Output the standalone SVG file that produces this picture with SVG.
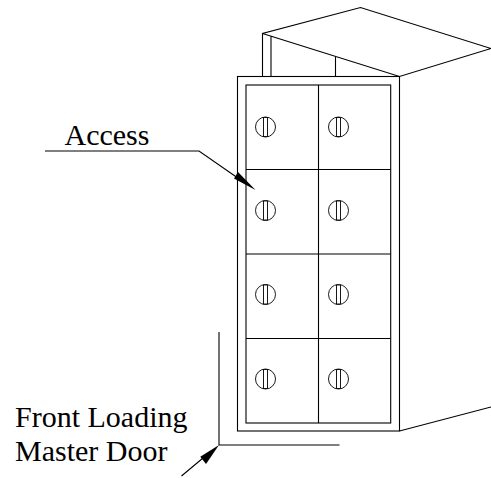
<svg xmlns="http://www.w3.org/2000/svg" width="491" height="478" viewBox="0 0 491 478">
<defs>
<style>
.l{fill:none;stroke:#000;stroke-width:1.1}
.t{font-family:"Liberation Serif","Times New Roman",serif;font-size:30px;fill:#000}
.k{fill:#fff;stroke:#000;stroke-width:.9}
</style>
<g id="knob"><circle class="k" r="10"/><rect class="k" x="-2" y="-9.500" width="4" height="19"/></g>
</defs>
<rect width="491" height="478" fill="#fff"/>
<g id="cabinet">
<path class="l" d="M262.500 76.500V33.500L360.500 7.500L491 48.500L399.500 76.500L262.500 33.500M271 76.500V36M335.500 76.500V56"/>
<rect class="l" x="237.500" y="76.500" width="162" height="354.500"/>
<rect class="l" x="246" y="85" width="144.700" height="338"/>
<path class="l" d="M318.500 85V423M246 169.500H390.700M246 254H390.700M246 338.500H390.700M399.500 431L491 407"/>
</g>
<g id="knobs">
<use href="#knob" x="265.500" y="127"/><use href="#knob" x="338.500" y="127"/>
<use href="#knob" x="265.500" y="210.500"/><use href="#knob" x="338.500" y="210.500"/>
<use href="#knob" x="265.500" y="294.500"/><use href="#knob" x="338.500" y="294.500"/>
<use href="#knob" x="265.500" y="379"/><use href="#knob" x="338.500" y="379"/>
</g>
<g id="connectors">
<path class="l" d="M45 151H199L240 179.500"/>
<path d="M255.500 190L234 178.500L238 172Z" fill="#000"/>
<path class="l" d="M219 332V445H339.500M181.500 476L203 458"/>
<path d="M219 445L206 464L200.300 456.700Z" fill="#000"/>
</g>
<g id="label-access"><text class="t" x="64.500" y="145">Access</text></g>
<g id="label-door">
<text class="t" x="15" y="427">Front Loading</text>
<text class="t" x="15" y="461">Master Door</text>
</g>
</svg>
